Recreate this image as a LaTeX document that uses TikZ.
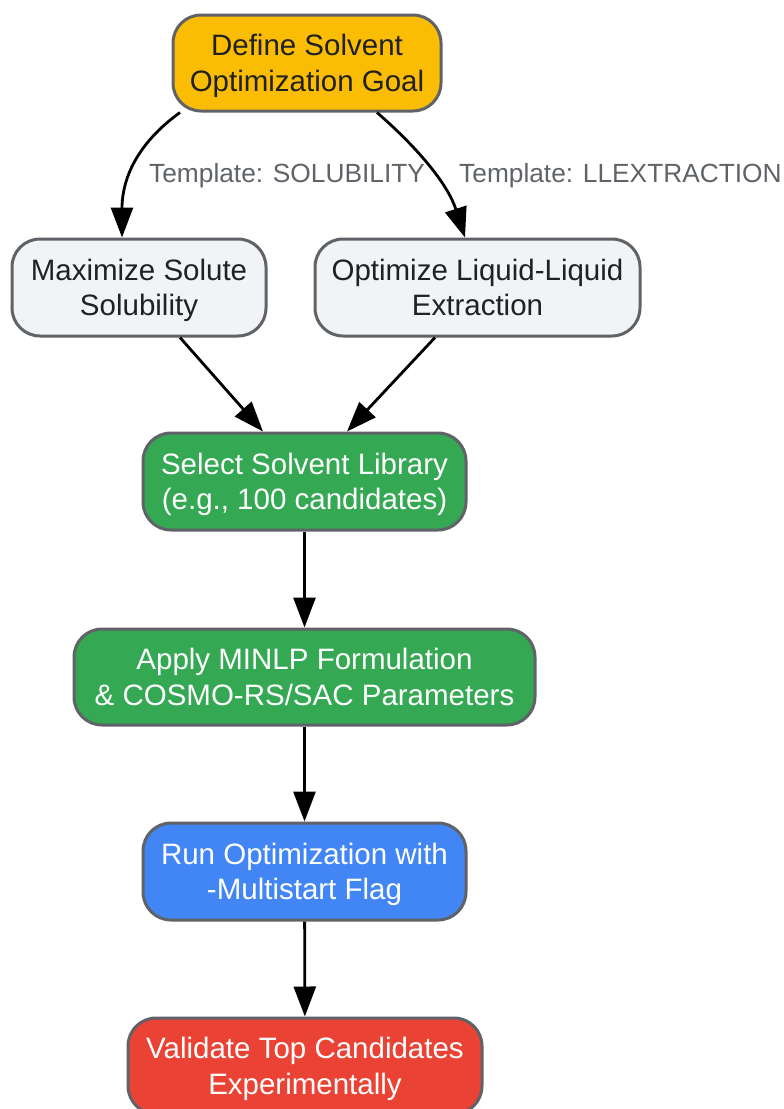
\documentclass[tikz,border=0pt]{standalone}
\usepackage{fontspec}
\setmainfont{Liberation Sans}
\usetikzlibrary{arrows.meta}
\definecolor{gyellow}{HTML}{FBBC04}
\definecolor{ggray}{HTML}{F1F3F4}
\definecolor{ggreen}{HTML}{34A853}
\definecolor{gblue}{HTML}{4285F4}
\definecolor{gred}{HTML}{EA4335}
\definecolor{gborder}{HTML}{5F6368}
\definecolor{gtext}{HTML}{202124}
\tikzset{
  box/.style={draw=gborder, line width=3pt, rounded corners=28pt, align=center,
    font=\fontsize{29.5}{35.5}\selectfont, inner sep=0pt, text depth=0pt},
  darkbox/.style={box, text=gtext},
  lightbox/.style={box, text=white},
  conn/.style={draw=black, line width=2.8pt, -{Triangle[length=30pt,width=22pt]}},
  elabel/.style={font=\fontsize{26.3}{30}\selectfont, text=gborder, inner sep=0pt, anchor=west}
}
\begin{document}
\begin{tikzpicture}[x=1pt,y=-1pt]
\useasboundingbox (0,0) rectangle (784,1109);
\clip (0,0) rectangle (784,1109);
\node[darkbox, fill=gyellow, minimum width=268pt, minimum height=96pt] (def) at (307,63) {Define Solvent\\Optimization Goal};
\node[darkbox, fill=ggray, minimum width=254pt, minimum height=97pt] (max) at (139,287.5) {Maximize Solute\\Solubility};
\node[darkbox, fill=ggray, minimum width=325pt, minimum height=97pt] (opt) at (477.5,287.5) {Optimize Liquid-Liquid\\Extraction};
\node[lightbox, fill=ggreen, minimum width=323pt, minimum height=97pt] (sel) at (304.5,481.5) {Select Solvent Library\\(e.g., 100 candidates)};
\node[lightbox, fill=ggreen, minimum width=461pt, minimum height=96pt] (app) at (304.5,677) {Apply MINLP Formulation\\\& COSMO-RS/SAC Parameters};
\node[lightbox, fill=gblue, minimum width=323pt, minimum height=97pt] (run) at (304.5,871.5) {Run Optimization with\\-Multistart Flag};
\node[lightbox, fill=gred, minimum width=354pt, minimum height=96pt] (val) at (305,1066) {Validate Top Candidates\\Experimentally};

\coordinate (d1) at ([xshift=-127pt]def.south);
\coordinate (d2) at ([xshift=70pt]def.south);
\draw[conn] (d1) .. controls (128,150) and (122,190) .. ([xshift=-17pt]max.north);
\draw[conn] (d2) .. controls (420,150) and (448,185) .. ([xshift=-12.5pt]opt.north);
\node[elabel] (l1) at (149,176) {Template: SOLUBILITY};
\node[elabel] (l2) at (459,176) {Template: LLEXTRACTION};

\draw[conn] ([xshift=41pt]max.south) -- ([xshift=-41.5pt]sel.north);
\draw[conn] ([xshift=-42.5pt]opt.south) -- ([xshift=42.5pt]sel.north);
\draw[conn] (sel) -- (app);
\draw[conn] (app) -- (run);
\draw[conn] (run) -- (val);
\end{tikzpicture}
\end{document}
